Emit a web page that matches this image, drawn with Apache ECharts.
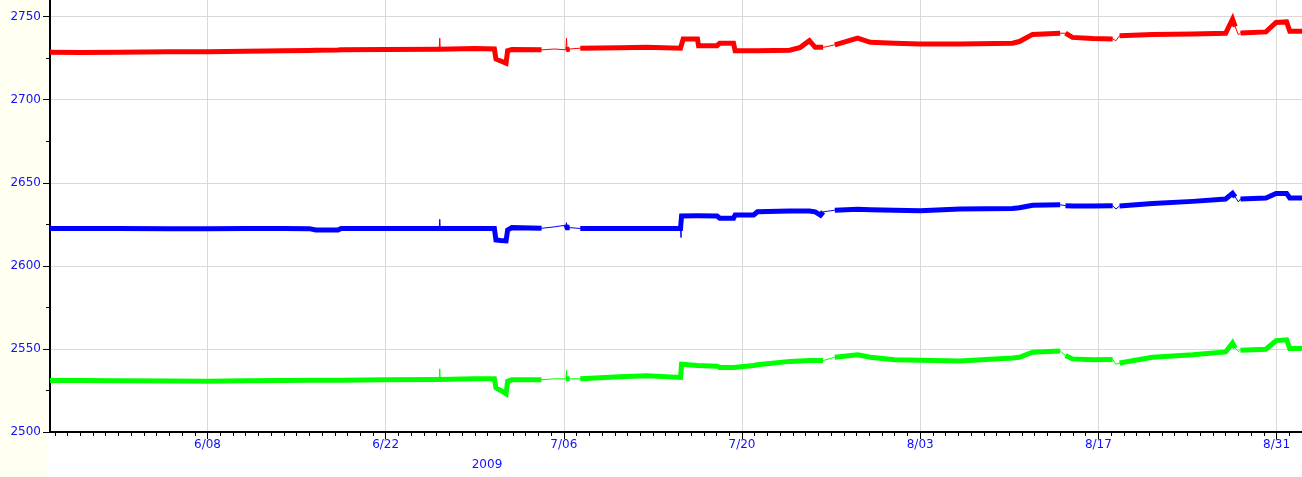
<!DOCTYPE html>
<html>
<head>
<meta charset="utf-8">
<script src="https://cdn.jsdelivr.net/npm/echarts@6/dist/echarts.min.js"></script>
<style>
  html, body { margin: 0; padding: 0; background: #ffffff; }
  #chart { width: 1302px; height: 477px; }
</style>
</head>
<body>
<div id="chart"></div>
<script>
// Three sensor traces, 26 May – 2 Sep 2009. Times are 'MM-DD HH'.
const YEAR = 2009;

const sampleTimes = [
  '05-26 15', '05-29 00', '06-01 00', '06-05 00', '06-08 00', '06-11 00', '06-14 00', '06-16 00',
  '06-16 12', '06-18 06', '06-18 12', '06-22 00', '06-26 05', '06-26 06', '06-26 07', '06-29 00',
  '06-30 13', '06-30 16', '07-01 01', '07-01 11', '07-01 14', '07-01 22', '07-04 06', '07-05 07',
  '07-06 04', '07-06 05', '07-06 06', '07-06 11', '07-07 07', '07-10 10', '07-12 12', '07-15 04',
  '07-15 05', '07-15 06', '07-15 09', '07-16 12', '07-16 14', '07-18 01', '07-18 06', '07-19 08',
  '07-19 11', '07-20 22', '07-21 05', '07-23 18', '07-24 14', '07-25 07', '07-25 18', '07-26 04',
  '07-26 09', '07-27 07', '07-29 02', '07-30 02', '08-01 00', '08-03 00', '08-06 03', '08-10 06',
  '08-10 19', '08-11 20', '08-14 00', '08-14 10', '08-14 23', '08-16 13', '08-18 03', '08-18 09',
  '08-18 16', '08-21 06', '08-24 10', '08-27 00', '08-27 13', '08-27 18', '08-28 00', '08-28 04',
  '08-30 04', '08-30 23', '08-31 19', '09-01 01', '09-02 00'
];

const redValues = [
  2728.5, 2728.4, 2728.6, 2728.8, 2728.9, 2729.2, 2729.5, 2729.6,
  2729.7, 2729.9, 2730.0, 2730.2, 2730.4, 2737.0, 2730.4, 2730.8,
  2730.5, 2724.5, 2723.3, 2722.0, 2729.5, 2730.2, 2730.0, 2730.5,
  2730.0, 2737.0, 2730.5, 2730.5, 2731.0, 2731.2, 2731.5, 2731.0,
  2731.0, 2731.5, 2736.5, 2736.5, 2732.5, 2732.5, 2734.0, 2734.0,
  2729.5, 2729.5, 2729.5, 2729.8, 2731.5, 2735.5, 2731.5, 2731.5,
  2731.5, 2733.0, 2737.0, 2734.5, 2734.0, 2733.5, 2733.5, 2734.0,
  2735.0, 2739.3, 2740.0, 2740.0, 2737.5, 2736.8, 2736.6, 2735.5,
  2738.5, 2739.3, 2739.5, 2740.0, 2748.5, 2744.0, 2739.0, 2740.2,
  2740.8, 2746.5, 2746.8, 2741.2, 2741.2
];

const blueValues = [
  2622.5, 2622.5, 2622.5, 2622.4, 2622.4, 2622.5, 2622.5, 2622.4,
  2621.6, 2621.6, 2622.5, 2622.5, 2622.5, 2628.0, 2622.5, 2622.5,
  2622.5, 2615.5, 2615.2, 2615.0, 2621.5, 2623.0, 2622.6, 2623.5,
  2624.5, 2626.0, 2623.0, 2623.0, 2622.5, 2622.5, 2622.5, 2622.5,
  2617.0, 2630.0, 2630.0, 2630.1, 2630.1, 2630.0, 2628.7, 2628.7,
  2630.6, 2630.6, 2632.5, 2633.0, 2633.0, 2633.0, 2632.5, 2630.5,
  2632.5, 2633.5, 2634.0, 2633.8, 2633.5, 2633.1, 2634.2, 2634.5,
  2635.0, 2636.5, 2636.8, 2636.2, 2636.0, 2636.0, 2636.2, 2634.2,
  2636.0, 2637.5, 2638.8, 2640.2, 2643.6, 2641.5, 2638.5, 2640.2,
  2640.8, 2643.6, 2643.5, 2640.8, 2640.8
];

const greenValues = [
  2531.0, 2531.0, 2530.9, 2530.7, 2530.6, 2530.8, 2531.0, 2531.1,
  2531.1, 2531.2, 2531.2, 2531.5, 2531.6, 2538.0, 2531.6, 2532.0,
  2532.1, 2526.5, 2525.0, 2523.0, 2530.5, 2531.5, 2531.5, 2532.0,
  2532.0, 2537.0, 2532.0, 2532.0, 2532.0, 2533.2, 2533.8, 2532.8,
  2532.5, 2540.8, 2540.5, 2540.0, 2540.0, 2539.6, 2538.8, 2538.8,
  2539.5, 2540.0, 2540.5, 2542.5, 2542.8, 2543.0, 2543.0, 2543.0,
  2543.0, 2545.0, 2546.5, 2545.0, 2543.5, 2543.2, 2542.8, 2544.6,
  2545.0, 2548.0, 2548.8, 2546.0, 2544.0, 2543.5, 2543.6, 2540.8,
  2541.5, 2545.0, 2546.5, 2548.2, 2553.6, 2550.5, 2548.5, 2549.2,
  2549.8, 2555.0, 2555.5, 2550.2, 2550.2
];

// Single-sample excursions (drawn as hairlines only)
const spikeTimes = ['06-26 06', '07-06 05', '07-15 05'];
// Samples after which the record is sparse until the next sample
const sparseFrom = ['07-04 06', '07-05 07', '07-06 11', '07-26 09', '08-14 00',
                    '08-18 03', '08-18 09', '08-27 18', '08-28 00'];

const dateTickLabels = ['6/08', '6/22', '7/06', '7/20', '8/03', '8/17', '8/31'];
const valueTickLabels = [2500, 2550, 2600, 2650, 2700, 2750];
const valueMinorTicks = [2525, 2575, 2625, 2675, 2725];

const RANGE_START = '05-26 15';
const RANGE_END = '09-02 00';

function stamp(s) {
  const [md, hh] = s.split(' ');
  const [m, d] = md.split('-').map(Number);
  return new Date(YEAR, m - 1, d, Number(hh || 0)).getTime();
}
function labelStamp(s) {
  const [m, d] = s.split('/').map(Number);
  return new Date(YEAR, m - 1, d).getTime();
}

const xMin = stamp(RANGE_START);
const xMax = stamp(RANGE_END);

const majorDays = dateTickLabels.map(labelStamp);
const allDays = [];
for (let t = new Date(YEAR, 4, 27); t.getTime() <= xMax; t.setDate(t.getDate() + 1)) {
  allDays.push(t.getTime());
}

// Every sample, joined by a hairline (shows sparse stretches and single spikes)
function hairline(values) {
  return sampleTimes.map((t, i) => [stamp(t), values[i]]);
}
// Dense stretches only, drawn as a thick band
function band(values) {
  const out = [];
  let prev = null;
  sampleTimes.forEach((t, i) => {
    if (spikeTimes.includes(t)) return;
    if (prev !== null && sparseFrom.includes(prev)) out.push([stamp(t) - 1, null]);
    out.push([stamp(t), values[i]]);
    prev = t;
  });
  return out;
}

const TEXT = '#1010ff';
const FONT = 'DejaVu Sans';
const FONT_SIZE = 12;
const traces = [
  { name: 'red', color: '#ff0000', values: redValues },
  { name: 'blue', color: '#0000ff', values: blueValues },
  { name: 'green', color: '#00ff00', values: greenValues }
];

const series = [];
traces.forEach(tr => {
  series.push({
    type: 'line', name: tr.name + '-thin', xAxisIndex: 0, yAxisIndex: 0,
    data: hairline(tr.values), showSymbol: false, symbol: 'none',
    lineStyle: { color: tr.color, width: 1 }, silent: true, z: 3
  });
  series.push({
    type: 'line', name: tr.name, xAxisIndex: 0, yAxisIndex: 0,
    data: band(tr.values), showSymbol: false, symbol: 'none', connectNulls: false,
    lineStyle: { color: tr.color, width: 5, cap: 'butt', join: 'miter' }, silent: true, z: 4
  });
});

function dayLabel(v) {
  const d = new Date(v);
  return (d.getMonth() + 1) + '/' + String(d.getDate()).padStart(2, '0');
}

const chart = echarts.init(document.getElementById('chart'), null, { renderer: 'canvas' });
chart.setOption({
  animation: false,
  backgroundColor: '#ffffff',
  grid: { left: 50, right: 0, top: 0, bottom: 45, containLabel: false },
  xAxis: [
    {
      type: 'value', min: xMin, max: xMax, position: 'bottom',
      axisLine: { show: true, lineStyle: { color: '#000000', width: 2 } },
      axisTick: { show: true, length: 7, customValues: majorDays, lineStyle: { color: '#000000', width: 1 } },
      axisLabel: {
        show: true, customValues: majorDays, color: TEXT, fontFamily: FONT, fontSize: FONT_SIZE, margin: 7,
        formatter: dayLabel
      },
      splitLine: { show: true, lineStyle: { color: '#d9d9d9', width: 1 } }
    },
    {
      type: 'value', min: xMin, max: xMax, position: 'bottom', offset: 0,
      axisLine: { show: false },
      axisTick: { show: true, length: 4, customValues: allDays, lineStyle: { color: '#000000', width: 1 } },
      axisLabel: { show: false },
      splitLine: { show: false }
    }
  ],
  yAxis: [
    {
      type: 'value', min: 2500, max: 2760, position: 'left',
      axisLine: { show: true, lineStyle: { color: '#000000', width: 2 } },
      axisTick: { show: true, length: 7, customValues: valueTickLabels, lineStyle: { color: '#000000', width: 1 } },
      axisLabel: {
        show: true, customValues: valueTickLabels, color: TEXT, fontFamily: FONT, fontSize: FONT_SIZE, margin: 9,
        formatter: v => String(v)
      },
      splitLine: { show: true, lineStyle: { color: '#d9d9d9', width: 1 } }
    },
    {
      type: 'value', min: 2500, max: 2760, position: 'left', offset: 0,
      axisLine: { show: false },
      axisTick: { show: true, length: 4, customValues: valueMinorTicks, lineStyle: { color: '#000000', width: 1 } },
      axisLabel: { show: false },
      splitLine: { show: false }
    }
  ],
  graphic: [
    { type: 'rect', left: 0, top: 0, z: -10, shape: { width: 48, height: 477 }, style: { fill: '#fffff2' }, silent: true },
    { type: 'text', x: 487, y: 465, z: 10, style: { text: String(YEAR), fill: TEXT, font: FONT_SIZE + 'px "DejaVu Sans"', textAlign: 'center', textVerticalAlign: 'middle' }, silent: true }
  ],
  series: series
});
</script>
</body>
</html>
